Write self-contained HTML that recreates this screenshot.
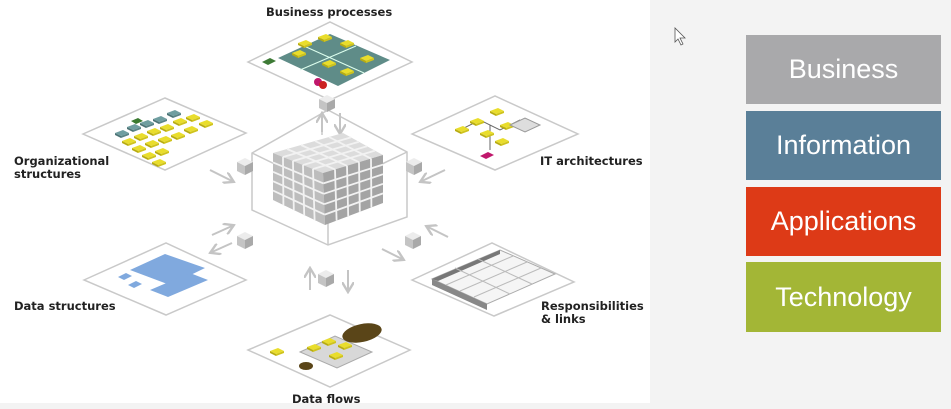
<!DOCTYPE html>
<html><head><meta charset="utf-8"><style>
html,body{margin:0;padding:0;background:#f3f3f3;width:951px;height:409px;overflow:hidden;font-family:"Liberation Sans",sans-serif}
.panel{position:absolute;left:0;top:0;width:650px;height:403px;background:#fff}
.box{position:absolute;left:746px;width:195px;color:#fff;font-size:27px;text-align:center}
svg{position:absolute;left:0;top:0}
.lb{font-family:"DejaVu Sans","Liberation Sans",sans-serif;font-weight:bold;font-size:11.5px;fill:#222}
</style></head><body>
<div class="panel"></div>
<div class="box" style="top:35px;height:69px;line-height:69px;background:#a9a9ab">Business</div>
<div class="box" style="top:111px;height:69px;line-height:69px;background:#5a7f98">Information</div>
<div class="box" style="top:187px;height:69px;line-height:69px;background:#dd3a17">Applications</div>
<div class="box" style="top:262px;height:70px;line-height:70px;background:#a3b636">Technology</div>
<svg width="951" height="409" viewBox="0 0 951 409">
<defs>
<marker id="ah" markerWidth="6" markerHeight="6" refX="4" refY="3" orient="auto"><path d="M0,0 L5,3 L0,6" fill="none" stroke="#c4c4c4" stroke-width="1.2"/></marker>
<g id="y"><polygon points="0,3 8,0 14,3 6,6" fill="#e9dd2c"/><polygon points="0,3 6,6 6,8 0,5" fill="#b8ac12"/><polygon points="6,6 14,3 14,5 6,8" fill="#cfc31c"/></g>
<g id="t"><polygon points="0,3 8,0 14,3 6,6" fill="#6f9ea0"/><polygon points="0,3 6,6 6,8 0,5" fill="#4c7476"/><polygon points="6,6 14,3 14,5 6,8" fill="#5a8486"/></g>
<g id="c"><polygon points="0,4 8,0 16,4 8,8" fill="#ececec"/><polygon points="0,4 8,8 8,17 0,13" fill="#c4c4c4"/><polygon points="8,8 16,4 16,13 8,17" fill="#a9a9a9"/></g>
</defs>
<g fill="none" stroke="#c9c9c9" stroke-width="1.5">
<polygon points="248,62 330,22 412,62 330,100"/>
<polygon points="83,134 165,98 246,133 165,170"/>
<polygon points="412,134 495,96 578,134 495,170"/>
<polygon points="84,280 166,243 246,280 166,315"/>
<polygon points="248,350 330,315 410,350 330,387"/>
<polygon points="412,280 492,243 574,282 494,316"/>
<polygon points="328,110 407,152 407,217 328,245 252,210 252,153"/>
<polyline points="252,153 328,190 407,152"/>
<line x1="328" y1="190" x2="328" y2="245"/>
<line x1="322" y1="112" x2="322" y2="135"/>
</g>
<g stroke="#c4c4c4" stroke-width="2" fill="none" marker-end="url(#ah)">
<line x1="322" y1="132" x2="322" y2="115"/><line x1="340" y1="113" x2="340" y2="132"/>
<line x1="210" y1="170" x2="232" y2="181"/><line x1="445" y1="170" x2="422" y2="181"/>
<line x1="212" y1="235" x2="232" y2="226"/><line x1="232" y1="243" x2="212" y2="252"/>
<line x1="448" y1="237" x2="428" y2="227"/><line x1="382" y1="249" x2="402" y2="259"/>
<line x1="310" y1="290" x2="310" y2="270"/><line x1="348" y1="270" x2="348" y2="290"/>
</g>
<use href="#c" x="319" y="95"/><use href="#c" x="237" y="158"/><use href="#c" x="406" y="158"/>
<use href="#c" x="237" y="232"/><use href="#c" x="405" y="232"/><use href="#c" x="318" y="270"/>
<polygon points="273,153 343,133 383,155 323,173" fill="#dcdcdc"/>
<polygon points="273,153 323,173 325,225 273,200" fill="#bdbdbd"/>
<polygon points="323,173 383,155 383,203 325,225" fill="#a4a4a4"/>
<g stroke="#f2f2f2" stroke-width="1.8">
<line x1="283" y1="157" x2="283.4" y2="205"/><line x1="293" y1="161" x2="293.8" y2="210"/><line x1="303" y1="165" x2="304.2" y2="215"/><line x1="313" y1="169" x2="314.6" y2="220"/>
<line x1="273" y1="162.4" x2="323.4" y2="183.4"/><line x1="273" y1="171.8" x2="323.8" y2="193.8"/><line x1="273" y1="181.2" x2="324.2" y2="204.2"/><line x1="273" y1="190.6" x2="324.6" y2="214.6"/>
<line x1="335" y1="169.4" x2="336.6" y2="220.6"/><line x1="347" y1="165.8" x2="348.2" y2="216.2"/><line x1="359" y1="162.2" x2="359.8" y2="211.8"/><line x1="371" y1="158.6" x2="371.4" y2="207.4"/>
<line x1="323.4" y1="183.4" x2="383" y2="164.6"/><line x1="323.8" y1="193.8" x2="383" y2="174.2"/><line x1="324.2" y1="204.2" x2="383" y2="183.8"/><line x1="324.6" y1="214.6" x2="383" y2="193.4"/>
<line x1="287" y1="149" x2="335" y2="169.4"/><line x1="301" y1="145" x2="347" y2="165.8"/><line x1="315" y1="141" x2="359" y2="162.2"/><line x1="329" y1="137" x2="371" y2="158.6"/>
<line x1="283" y1="157" x2="351" y2="137.4"/><line x1="293" y1="161" x2="359" y2="141.8"/><line x1="303" y1="165" x2="367" y2="146.2"/><line x1="313" y1="169" x2="375" y2="150.6"/>
</g>
<polygon points="278,58 330,34 390,60 338,86" fill="#5f8c88"/>
<g stroke="#dfe" stroke-width="1" fill="none"><line x1="304" y1="46" x2="364" y2="73"/><line x1="300" y1="70" x2="356" y2="46"/></g>
<use href="#y" x="318" y="34"/><use href="#y" x="340" y="40"/><use href="#y" x="292" y="50"/><use href="#y" x="322" y="60"/><use href="#y" x="360" y="55"/><use href="#y" x="340" y="68"/><use href="#y" x="298" y="40"/>
<polygon points="262,62 270,58 276,61 268,65" fill="#3d7a35"/><circle cx="318" cy="82" r="4" fill="#c0186c"/><circle cx="323" cy="85" r="4" fill="#c22"/>
<use href="#t" x="115" y="130"/><use href="#t" x="127" y="124"/><use href="#t" x="140" y="120"/><use href="#t" x="153" y="116"/><use href="#t" x="167" y="110"/>
<polygon points="131,121 138,118 143,121 136,124" fill="#3a7a30"/>
<use href="#y" x="122" y="138"/><use href="#y" x="134" y="133"/><use href="#y" x="147" y="128"/><use href="#y" x="160" y="124"/><use href="#y" x="173" y="118"/><use href="#y" x="186" y="114"/><use href="#y" x="199" y="120"/>
<use href="#y" x="132" y="145"/><use href="#y" x="145" y="140"/><use href="#y" x="158" y="136"/><use href="#y" x="171" y="132"/><use href="#y" x="184" y="126"/>
<use href="#y" x="142" y="152"/><use href="#y" x="155" y="148"/><use href="#y" x="152" y="159"/>
<g stroke="#666" stroke-width="1" fill="none"><polyline points="460,130 480,120 500,130 520,120"/><line x1="490" y1="125" x2="490" y2="150"/></g>
<use href="#y" x="455" y="126"/><use href="#y" x="470" y="118"/><use href="#y" x="490" y="108"/><use href="#y" x="480" y="130"/><use href="#y" x="495" y="138"/><use href="#y" x="500" y="122"/>
<polygon points="510,125 525,118 540,125 525,132" fill="#ddd" stroke="#999"/>
<polygon points="480,156 488,152 494,155 486,159" fill="#c0186c"/>
<polygon points="130,270 165,254 205,268 170,285" fill="#80a9de"/>
<polygon points="150,290 190,273 208,280 168,297" fill="#80a9de"/>
<polygon points="118,277 126,273 132,276 124,280" fill="#80a9de"/><polygon points="128,285 136,281 142,284 134,288" fill="#80a9de"/>
<polygon points="432,279 500,250 555,274 487,304" fill="#f5f5f5" stroke="#aaa"/>
<polygon points="432,279 487,304 487,310 432,285" fill="#888"/>
<polygon points="432,279 500,250 500,254 438,281" fill="#777"/>
<g stroke="#bbb" stroke-width="1"><line x1="446" y1="285" x2="513" y2="256"/><line x1="460" y1="291" x2="527" y2="262"/><line x1="474" y1="297" x2="541" y2="268"/><line x1="455" y1="268" x2="510" y2="294"/><line x1="478" y1="259" x2="532" y2="284"/></g>
<polygon points="300,352 335,336 372,352 337,368" fill="#d8d8d8" stroke="#aaa"/>
<ellipse cx="362" cy="333" rx="20" ry="9" fill="#5a4518" transform="rotate(-12 362 333)"/>
<ellipse cx="306" cy="366" rx="7" ry="4" fill="#5a4518"/>
<use href="#y" x="270" y="348"/><use href="#y" x="307" y="344"/><use href="#y" x="322" y="338"/><use href="#y" x="338" y="342"/><use href="#y" x="329" y="352"/>
<text class="lb" x="266" y="16">Business processes</text>
<text class="lb" x="14" y="165">Organizational</text>
<text class="lb" x="14" y="178">structures</text>
<text class="lb" x="540" y="165">IT architectures</text>
<text class="lb" x="14" y="310">Data structures</text>
<text class="lb" x="541" y="310">Responsibilities</text>
<text class="lb" x="541" y="323">&amp; links</text>
<text class="lb" x="292" y="403">Data flows</text>
<polygon points="675,28 675,42 678,39 681,45 683,44 680,38 685,38" fill="#fff" stroke="#555" stroke-width="0.8"/>
</svg>
</body></html>
